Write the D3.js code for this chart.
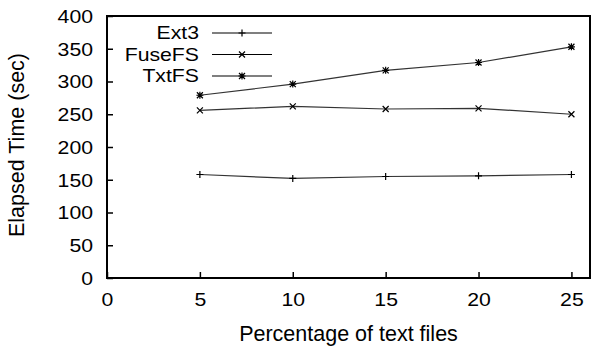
<!DOCTYPE html>
<html>
<head>
<meta charset="utf-8">
<script src="https://cdn.jsdelivr.net/npm/d3@7"></script>
<style>
  body { margin: 0; background: #fff; }
  svg { display: block; font-family: "Liberation Sans", Arial, sans-serif; }
</style>
</head>
<body>
<div id="chart"></div>
<script>
// Data
const percentages = [5, 10, 15, 20, 25];
const ext3 = [158, 152, 155, 156, 158];
const fuseFS = [256, 262, 258, 259, 250];
const txtFS = [279, 296, 317, 329, 353];
const xTicks = [0, 5, 10, 15, 20, 25];
const yTicks = [0, 50, 100, 150, 200, 250, 300, 350, 400];

const series = [
  { name: "Ext3", values: ext3, marker: "plus" },
  { name: "FuseFS", values: fuseFS, marker: "cross" },
  { name: "TxtFS", values: txtFS, marker: "star" }
];

const width = 600, height = 354;
const margin = { top: 16, right: 10, bottom: 76, left: 107 };
const w = width - margin.left - margin.right,
      h = height - margin.top - margin.bottom;
const stretchX = 1.18;

const svg = d3.select("#chart").append("svg")
    .attr("width", width)
    .attr("height", height)
  .append("g")
    .attr("transform", `translate(${margin.left},${margin.top})`);

// gnuplot-style text is a bit wider than Liberation Sans, so widen it
function stretch(sel) {
  sel.each(function() {
    const t = d3.select(this);
    const tx = +t.attr("x") || 0, ty = +t.attr("y") || 0;
    t.attr("x", 0).attr("y", 0)
      .attr("transform", `translate(${tx},${ty}) scale(${stretchX},1)`);
  });
}

const x = d3.scaleLinear().domain([0, 26]).range([0, w]);
const y = d3.scaleLinear().domain([0, 400]).range([h, 0]);

// Axes (ticks pointing inward)
const xAxis = svg.append("g")
  .attr("transform", `translate(0,${h})`)
  .call(d3.axisBottom(x).tickValues(xTicks).tickSize(-6).tickPadding(15));

const yAxis = svg.append("g")
  .call(d3.axisLeft(y).tickValues(yTicks).tickSize(-6).tickPadding(14));

[xAxis, yAxis].forEach(a => {
  a.select(".domain").remove();
  a.selectAll("line").attr("stroke", "#000").attr("stroke-width", 1.5);
  a.selectAll("text").style("font-size", "18px").attr("fill", "#000");
});
yAxis.selectAll("text").attr("dy", "0.36em");
stretch(xAxis.selectAll("text"));
stretch(yAxis.selectAll("text"));

// Frame
svg.append("rect")
  .attr("width", w)
  .attr("height", h)
  .attr("fill", "none")
  .attr("stroke", "#000")
  .attr("stroke-width", 2);

// Axis labels
svg.append("text")
  .attr("x", (x(0) + x(26)) / 2)
  .attr("y", h + 63)
  .attr("text-anchor", "middle")
  .style("font-size", "21.5px")
  .text("Percentage of text files");

svg.append("text")
  .attr("transform", "rotate(-90)")
  .attr("x", -h / 2 + 2)
  .attr("y", -83)
  .attr("text-anchor", "middle")
  .style("font-size", "21.5px")
  .text("Elapsed Time (sec)");

// Marker drawing
function drawMarker(g, type, cx, cy) {
  const s = 3.5;
  let d;
  if (type === "plus") {
    d = `M${cx - s},${cy}H${cx + s}M${cx},${cy - s}V${cy + s}`;
  } else if (type === "cross") {
    d = `M${cx - 3},${cy - 3}L${cx + 3},${cy + 3}M${cx - 3},${cy + 3}L${cx + 3},${cy - 3}`;
  } else {
    d = `M${cx - s},${cy}H${cx + s}M${cx},${cy - s}V${cy + s}` +
        `M${cx - 3},${cy - 3}L${cx + 3},${cy + 3}M${cx - 3},${cy + 3}L${cx + 3},${cy - 3}`;
  }
  g.append("path").attr("d", d).attr("stroke", "#000").attr("stroke-width", 1.2).attr("fill", "none");
}

const line = d3.line()
  .x((d, i) => x(percentages[i]))
  .y(d => y(d));

series.forEach(s => {
  svg.append("path")
    .datum(s.values)
    .attr("d", line)
    .attr("fill", "none")
    .attr("stroke", "#333")
    .attr("stroke-width", 1.2);
  const g = svg.append("g");
  s.values.forEach((v, i) => drawMarker(g, s.marker, x(percentages[i]), y(v)));
});

// Legend
const legend = svg.append("g");
series.forEach((s, i) => {
  const ly = 17 + i * 21.5;
  legend.append("text")
    .attr("x", 92)
    .attr("y", ly)
    .attr("dy", "0.36em")
    .attr("text-anchor", "end")
    .style("font-size", "18px")
    .text(s.name)
    .call(stretch);
  legend.append("line")
    .attr("x1", 105).attr("x2", 165)
    .attr("y1", ly).attr("y2", ly)
    .attr("stroke", "#000").attr("stroke-width", 1.2);
  drawMarker(legend, s.marker, 135, ly);
});
</script>
</body>
</html>
